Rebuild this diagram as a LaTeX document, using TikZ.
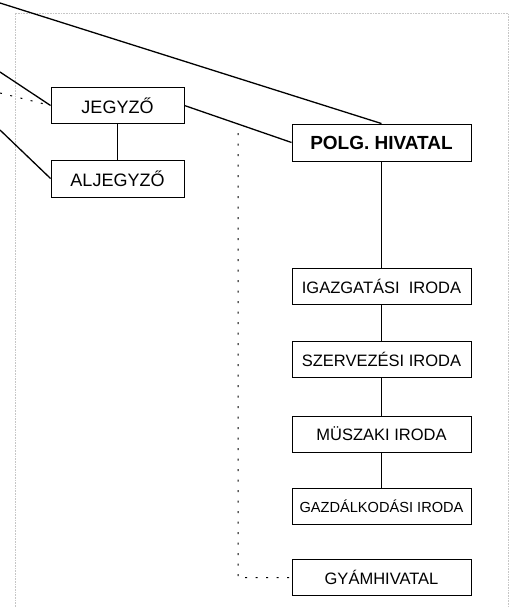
\documentclass[tikz,border=0pt]{standalone}
\usepackage{fontspec}
\setmainfont{Liberation Sans}
\usetikzlibrary{calc}

\begin{document}
\begin{tikzpicture}[x=1pt,y=-1pt,
	box/.style={draw,line width=.9pt,minimum height=36pt,inner sep=0pt,font=\fontsize{16.5}{18}\selectfont},
	link/.style={line width=1.3pt},
	tie/.style={line width=.9pt},
	dots/.style={line width=1pt,dash pattern=on 2pt off 8.5pt}]
		\useasboundingbox (0,0) rectangle (509,607);
		\def\wL{133}
		\def\wR{179}
		\def\xR{381.5}
		\draw[gray!45,line width=.6pt,densely dotted] (15,607)--(15,13)--(508,13)--(508,607);
		\node[box,minimum width=\wL,font=\fontsize{18}{20}\selectfont] (jegyzo) at (117.5,105.5) {JEGYZŐ};
		\node[box,minimum width=\wL,minimum height=37pt,font=\fontsize{18}{20}\selectfont] (aljegyzo) at (117.5,178.5) {ALJEGYZŐ};
		\node[box,minimum width=\wR,minimum height=37pt,font=\fontsize{19}{21}\selectfont\bfseries] (polg) at (\xR,142.5) {POLG. HIVATAL};
		\foreach \n/\y/\t in {igazgatasi/286/IGAZGATÁSI\ \ IRODA,szervezesi/359/SZERVEZÉSI IRODA,muszaki/434/MÜSZAKI IRODA,gyamhivatal/577.5/GYÁMHIVATAL}
		\node[box,minimum width=\wR] (\n) at (\xR,\y) {\t};
		\node[box,minimum width=\wR,font=\fontsize{14.6}{16}\selectfont] (gazdalkodasi) at (\xR,506) {GAZDÁLKODÁSI IRODA};
		\path
		(0,3) coordinate (in_top)
		(0,72) coordinate (in_j)
		(0,93) coordinate (in_d)
		(0,130) coordinate (in_a)
		(238,133) coordinate (d_top)
		(238,577.5) coordinate (d_bot);
		\draw[link] (in_top)--(polg.north) (jegyzo.east)--(polg.west) (in_j)--(jegyzo.west) (in_a)--(aljegyzo.west);
		\draw[tie] (jegyzo)--(aljegyzo) (polg)--(igazgatasi)--(szervezesi)--(muszaki)--(gazdalkodasi);
		\draw[dots] (in_d)--(jegyzo.west) (d_top)--(d_bot)--(gyamhivatal.west);
	\end{tikzpicture}
\end{document}
